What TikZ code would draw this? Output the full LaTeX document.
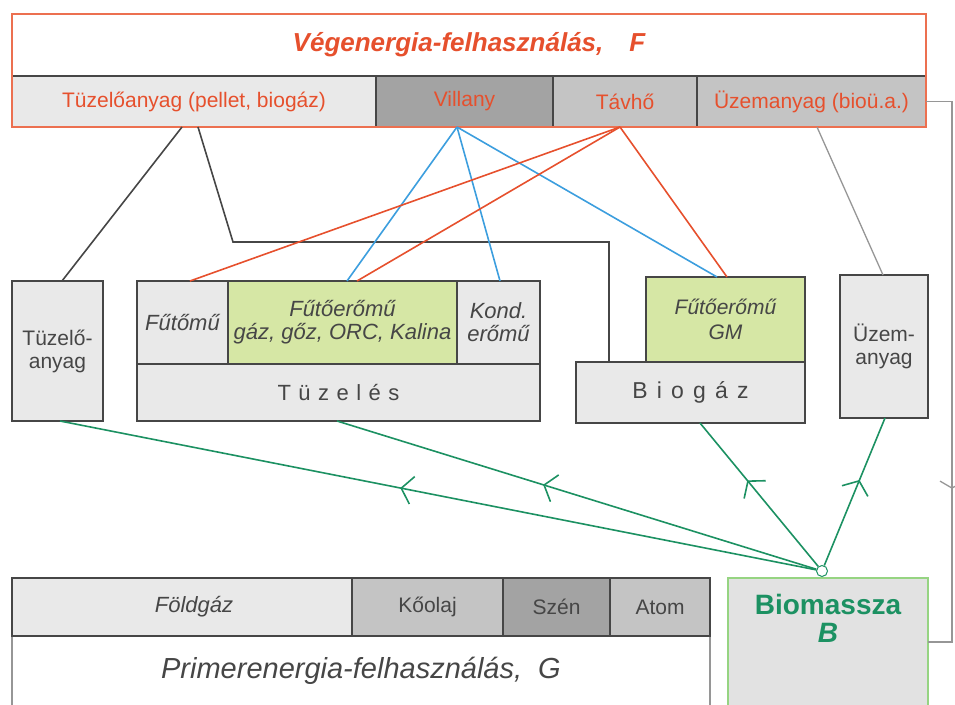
\documentclass[tikz,border=0pt]{standalone}
\usepackage{fontspec}
\setmainfont{Liberation Sans}
\usetikzlibrary{
    arrows.meta,
    positioning,
    calc,
    decorations.markings
}
\definecolor{vegred}{RGB}{230, 80, 45}
\definecolor{vegframe}{RGB}{236, 112, 80}
\definecolor{villblue}{RGB}{60, 158, 222}
\definecolor{bioGreen}{RGB}{28, 145, 98}
\definecolor{chpgreen}{RGB}{214, 231, 165}
\definecolor{cellgray}{RGB}{233, 233, 233}
\definecolor{midgray}{RGB}{196, 196, 196}
\definecolor{deepgray}{RGB}{163, 163, 163}
\definecolor{textgray}{RGB}{70, 70, 70}
\definecolor{linegray}{RGB}{150, 150, 150}
\definecolor{biofill}{RGB}{226, 226, 226}
\definecolor{bioframe}{RGB}{150, 212, 130}

\begin{document}
\begin{tikzpicture}[x=1pt, y=-1pt,
        cell/.style={draw=textgray, line width=1.1pt, inner sep=0pt, outer sep=0pt, align=center, text=textgray},
        rowfont/.style={font=\fontsize{21}{23}\selectfont},
        boxfont/.style={font=\fontsize{22}{23}\selectfont\itshape},
        link/.style={line width=1.6pt},
        flow/.style={line width=1.6pt, bioGreen, postaction={decorate},
            decoration={markings, mark=at position #1 with {\arrow{Straight Barb[length=11pt, width=28pt]}}}},
        flow/.default=0.57
    ]
        \useasboundingbox (0,0) rectangle (955,704);
        \clip (0,0) rectangle (955,704);

        % Final energy use, F
        \node[cell, fill=white, minimum width=914pt, minimum height=62pt, text=vegred,
            font=\fontsize{26}{30}\selectfont\bfseries\itshape] (title) at (469,45) {Végenergia-felhasználás,\quad F};
        \node[cell, fill=cellgray, minimum width=364pt, minimum height=51pt, text=vegred, rowfont] (tuzF) at (194,101.5) {Tüzelőanyag (pellet, biogáz)};
        \node[cell, fill=deepgray, minimum width=177pt, minimum height=51pt, text=vegred, rowfont] (vill) at (464.5,101.5) {Villany};
        \node[cell, fill=midgray, minimum width=144pt, minimum height=51pt, text=vegred, rowfont] (tavho) at (625,101.5) {Távhő};
        \node[cell, fill=midgray, minimum width=229pt, minimum height=51pt, text=vegred, rowfont] (uzemF) at (811.5,101.5) {Üzemanyag (bioü.a.)};
        \draw[vegframe, line width=1.6pt] (title.north west) rectangle (uzemF.south east);

        % Conversion boxes
        \node[cell, fill=cellgray, minimum width=91pt, minimum height=140pt, font=\fontsize{21}{23}\selectfont] (tuzanyag) at (57.5,351) {Tüzelő-\\anyag};
        \node[cell, fill=cellgray, minimum width=91pt, minimum height=83pt, boxfont] (futomu) at (182.5,322.5) {Fűtőmű};
        \node[cell, fill=chpgreen, minimum width=229pt, minimum height=83pt, boxfont] (fuerom) at (342.5,322.5) {Fűtőerőmű\\gáz, gőz, ORC, Kalina};
        \node[cell, fill=cellgray, minimum width=83pt, minimum height=83pt, boxfont] (kond) at (498.5,322.5) {Kond.\\erőmű};
        \node[cell, fill=cellgray, minimum width=403pt, minimum height=57pt,
            font=\fontsize{22}{24}\selectfont\addfontfeature{LetterSpace=34}] (tuzeles) at (338.5,392.5) {Tüzelés};
        \node[cell, fill=chpgreen, minimum width=159pt, minimum height=85pt, font=\fontsize{21}{25}\selectfont\itshape] (gm) at (725.5,319.5) {Fűtőerőmű\\GM};
        \node[cell, fill=cellgray, minimum width=229pt, minimum height=61pt,
            font=\fontsize{23}{25}\selectfont\addfontfeature{LetterSpace=40}] (biogaz) at (690.5,392.5) {Biogáz};
        \node[cell, fill=cellgray, minimum width=88pt, minimum height=143pt, font=\fontsize{21}{23}\selectfont] (uzemanyag) at (884,346.5) {Üzem-\\anyag};

        % Primary energy use, G
        \node[cell, draw=linegray, fill=white, minimum width=698pt, minimum height=70pt,
            font=\fontsize{29}{32}\selectfont\itshape] (primer) at (361,671) {Primerenergia-felhasználás,\ \ G};
        \node[cell, fill=cellgray, minimum width=340pt, minimum height=58pt, boxfont] (foldgaz) at (182,607) {\hspace*{24pt}Földgáz};
        \node[cell, fill=midgray, minimum width=151pt, minimum height=58pt, rowfont] (koolaj) at (427.5,607) {Kőolaj};
        \node[cell, fill=deepgray, minimum width=107pt, minimum height=58pt, rowfont] (szen) at (556.5,607) {Szén};
        \node[cell, fill=midgray, minimum width=100pt, minimum height=58pt, rowfont] (atom) at (660,607) {Atom};

        % Biomass
        \node[cell, draw=bioframe, fill=biofill, minimum width=200pt, minimum height=128pt] (biomassza) at (828,642) {};
        \node[align=center, text=bioGreen, font=\fontsize{28}{28}\selectfont\bfseries] (biotxt) at (828,618) {Biomassza\\\textit{B}};

        % Fuel lines (black)
        \coordinate (elbow) at (233,242);
        \draw[link, textgray] ([xshift=-12pt]tuzF.south) -- ([xshift=4.5pt]tuzanyag.north);
        \draw[link, textgray] ([xshift=4pt]tuzF.south) -- (elbow) -| ([xshift=-81.5pt]biogaz.north);

        % Electricity (blue) and district heat (red)
        \foreach \tgt/\dx in {fuerom/4.5, kond/1.5, gm/-8.5}
            \draw[link, villblue] ([xshift=-7.5pt]vill.south) -- ([xshift=\dx pt]\tgt.north);
        \foreach \tgt/\dx in {futomu/7.5, fuerom/14.5, gm/1.5}
            \draw[link, vegred] ([xshift=-5pt]tavho.south) -- ([xshift=\dx pt]\tgt.north);

        % Motor fuel (gray)
        \draw[line width=1.3pt, linegray] ([xshift=5.5pt]uzemF.south) -- ([xshift=-1pt]uzemanyag.north);
        \coordinate (rightx) at (952,0);
        \draw[line width=1.3pt, linegray, postaction={decorate},
            decoration={markings, mark=at position 0.7 with {\arrow{Straight Barb[length=7pt, width=24pt]}}}]
            (uzemF.east) -| (rightx |- biomassza.east) -- (biomassza.east);

        % Biomass flows (green)
        \node[circle, draw=bioGreen, fill=white, line width=1pt, minimum size=11pt, inner sep=0pt] (hub) at (822,571) {};
        \draw[flow=0.55] (hub) -- ([xshift=2.5pt]tuzanyag.south);
        \draw[flow=0.57] (hub) -- ([xshift=-1.5pt]tuzeles.south);
        \draw[flow=0.6] (hub) -- ([xshift=9.5pt]biogaz.south);
        \draw[flow=0.58] (hub) -- ([xshift=1pt]uzemanyag.south);
    \end{tikzpicture}
\end{document}
